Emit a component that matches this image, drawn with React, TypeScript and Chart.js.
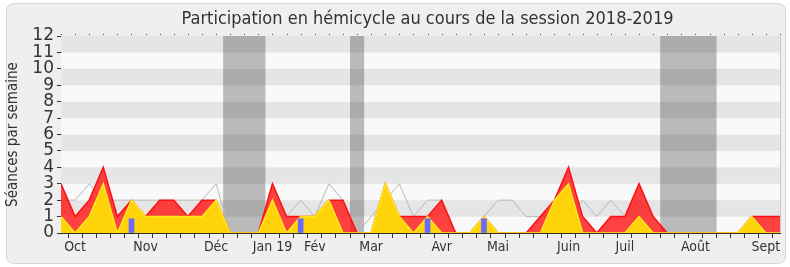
import React, { useEffect, useRef } from "react";
import { Chart, registerables } from "chart.js";

Chart.register(...registerables);

// ---- data (weekly, session 2018-2019) ----
const weeks: number[] = Array.from({ length: 52 }, (_, i) => i);
const presenceTotal: number[] = [3, 1, 2, 4, 1, 2, 1, 2, 2, 1, 2, 2, 0, 0, 0, 3, 1, 1, 1, 2, 2, 0, 0, 3, 1, 1, 1, 2, 0, 0, 1, 0, 0, 0, 1, 2, 4, 1, 0, 1, 1, 3, 1, 0, 0, 0, 0, 0, 0, 1, 1, 1];
const presenceHemicycle: number[] = [1, 0, 1, 3, 0, 2, 1, 1, 1, 1, 1, 2, 0, 0, 0, 2, 0, 1, 1, 2, 0, 0, 0, 3, 1, 0, 1, 0, 0, 0, 1, 0, 0, 0, 0, 2, 3, 0, 0, 0, 0, 1, 0, 0, 0, 0, 0, 0, 0, 1, 0, 0];
const medianDeputes: number[] = [2, 2, 3, 2, 2, 2, 2, 2, 2, 2, 2, 3, 0, 0, 0, 3, 1, 2, 1, 3, 2, 0, 1, 2, 3, 1, 2, 2, 0, 0, 1, 2, 2, 1, 1, 1, 1, 2, 1, 2, 1, 2, 1, 0, 0, 0, 0, 0, 0, 0, 0, 0];
const interventions: (number | null)[] = [null, null, null, null, null, 0.87, null, null, null, null, null, null, null, null, null, null, null, 0.87, null, null, null, null, null, null, null, null, 0.87, null, null, null, 0.87, null, null, null, null, null, null, null, null, null, null, null, null, null, null, null, null, null, null, null, null, null];
const monthLabels: string[] = ["Oct", "Nov", "Déc", "Jan 19", "Fév", "Mar", "Avr", "Mai", "Juin", "Juil", "Août", "Sept"];
const monthLabelWeeks: number[] = [1, 6, 11, 15, 18, 22, 27, 31, 36, 40, 45, 50];
const vacationStart: number[] = [11.5, 20.5, 42.5];
const vacationEnd: number[] = [14.5, 21.5, 46.5];
const yMax = 12;

const TITLE = "Participation en hémicycle au cours de la session 2018-2019";
const Y_TITLE = "Séances par semaine";
const FONT = "'DejaVu Sans Condensed', 'DejaVu Sans', sans-serif";
const FONT_REG = "'DejaVu Sans', sans-serif";

const decorPlugin = {
  id: "decor",
  beforeDraw(chart: any) {
    const { ctx, width, height } = chart;
    ctx.save();
    ctx.fillStyle = "#ffffff";
    ctx.fillRect(0, 0, width, height);
    const x = 6.5, y = 3.5, w = width - 11, h = height - 7, r = 8;
    ctx.beginPath();
    ctx.moveTo(x + r, y);
    ctx.lineTo(x + w - r, y);
    ctx.quadraticCurveTo(x + w, y, x + w, y + r);
    ctx.lineTo(x + w, y + h - r);
    ctx.quadraticCurveTo(x + w, y + h, x + w - r, y + h);
    ctx.lineTo(x + r, y + h);
    ctx.quadraticCurveTo(x, y + h, x, y + h - r);
    ctx.lineTo(x, y + r);
    ctx.quadraticCurveTo(x, y, x + r, y);
    ctx.closePath();
    ctx.fillStyle = "#efefef";
    ctx.fill();
    ctx.strokeStyle = "#d8d8d8";
    ctx.lineWidth = 1;
    ctx.stroke();

    // title
    ctx.fillStyle = "#333333";
    ctx.font = "18px " + FONT;
    ctx.textAlign = "center";
    ctx.textBaseline = "middle";
    ctx.fillText(TITLE, 427.5, 19);

    // y title
    const ca = chart.chartArea;
    ctx.translate(13, (ca.top + ca.bottom) / 2);
    ctx.rotate(-Math.PI / 2);
    ctx.font = "15px " + FONT;
    ctx.fillText(Y_TITLE, 0, 0);
    ctx.restore();
  },
  beforeDatasetsDraw(chart: any) {
    const { ctx, chartArea: ca, scales } = chart;
    const xs = scales.x, ys = scales.y;
    ctx.save();
    for (let n = 0; n < yMax; n++) {
      const top = ys.getPixelForValue(n + 1);
      const bot = ys.getPixelForValue(n);
      ctx.fillStyle = n % 2 === 1 ? "#e5e5e5" : "#f9f9f9";
      ctx.fillRect(ca.left, top, ca.right - ca.left, bot - top);
    }
    ctx.fillStyle = "rgba(0,0,0,0.25)";
    for (let i = 0; i < vacationStart.length; i++) {
      const a = xs.getPixelForValue(vacationStart[i]);
      const b = xs.getPixelForValue(vacationEnd[i]);
      ctx.fillRect(a, ca.top, b - a, ca.bottom - ca.top);
    }
    ctx.restore();
  },
  afterDraw(chart: any) {
    const { ctx, chartArea: ca, scales } = chart;
    const xs = scales.x;
    ctx.save();
    ctx.fillStyle = "#444444";
    for (const w of weeks) {
      const px = Math.round(xs.getPixelForValue(w));
      ctx.fillRect(px, ca.top - 2, 1, 1);
    }
    ctx.strokeStyle = "#cccccc";
    ctx.lineWidth = 1;
    ctx.beginPath();
    ctx.moveTo(Math.round(ca.right) + 0.5, ca.top);
    ctx.lineTo(Math.round(ca.right) + 0.5, ca.bottom);
    ctx.stroke();
    ctx.restore();
  },
};

export default function App() {
  const ref = useRef<HTMLCanvasElement | null>(null);

  useEffect(() => {
    if (!ref.current) return;
    const chart = new Chart(ref.current, {
      data: {
        labels: weeks,
        datasets: [
          {
            type: "bar",
            label: "Interventions",
            data: interventions,
            backgroundColor: "#6a6aff",
            barThickness: 5,
            order: 1,
          } as any,
          {
            type: "line",
            label: "Présence hémicycle",
            data: presenceHemicycle,
            fill: "origin",
            backgroundColor: "#ffd30a",
            borderColor: "#ffe81a",
            borderWidth: 1.5,
            pointRadius: 0,
            tension: 0,
            order: 2,
          },
          {
            type: "line",
            label: "Présence totale",
            data: presenceTotal,
            fill: "origin",
            backgroundColor: "rgba(255,20,20,0.8)",
            borderColor: "#ff1010",
            borderWidth: 1.5,
            pointRadius: 0,
            tension: 0,
            order: 3,
          },
          {
            type: "line",
            label: "Médiane",
            data: medianDeputes,
            fill: false,
            borderColor: "#b8b8b8",
            borderWidth: 1,
            pointRadius: 0,
            tension: 0,
            order: 4,
          },
        ],
      },
      options: {
        responsive: false,
        animation: false,
        devicePixelRatio: 1,
        layout: { padding: { left: 0, top: 36, right: 10, bottom: 0 } },
        plugins: { legend: { display: false }, tooltip: { enabled: false }, title: { display: false } },
        scales: {
          x: {
            type: "linear",
            min: 0,
            max: weeks.length - 1,
            offset: false,
            afterBuildTicks: (s: any) => {
              s.ticks = weeks.map((v) => ({ value: v }));
            },
            afterFit: (s: any) => {
              s.height = 34;
            },
            ticks: {
              autoSkip: false,
              maxRotation: 0,
              padding: 1,
              color: "#333333",
              font: { family: FONT, size: 14 },
              callback: (v: any) => {
                const k = monthLabelWeeks.indexOf(Number(v));
                return k >= 0 ? monthLabels[k] : "";
              },
            },
            grid: { drawOnChartArea: false, drawTicks: true, tickLength: 5, color: "#333333" },
            border: { color: "#333333", width: 1 },
          },
          y: {
            min: 0,
            max: yMax,
            afterBuildTicks: (s: any) => {
              s.ticks = Array.from({ length: yMax + 1 }, (_, i) => ({ value: i }));
            },
            afterFit: (s: any) => {
              s.width = 61;
            },
            ticks: {
              autoSkip: false,
              stepSize: 1,
              padding: 3,
              color: "#333333",
              font: { family: FONT_REG, size: 17 },
            },
            grid: { drawOnChartArea: false, drawTicks: true, tickLength: 4, color: "#333333" },
            border: { color: "#333333", width: 1 },
          },
        },
      } as any,
      plugins: [decorPlugin],
    });
    return () => chart.destroy();
  }, []);

  return (
    <div style={{ position: "absolute", left: 0, top: 0, width: 790, height: 267 }}>
      <canvas ref={ref} width={790} height={267} style={{ display: "block", width: 790, height: 267 }} />
    </div>
  );
}
